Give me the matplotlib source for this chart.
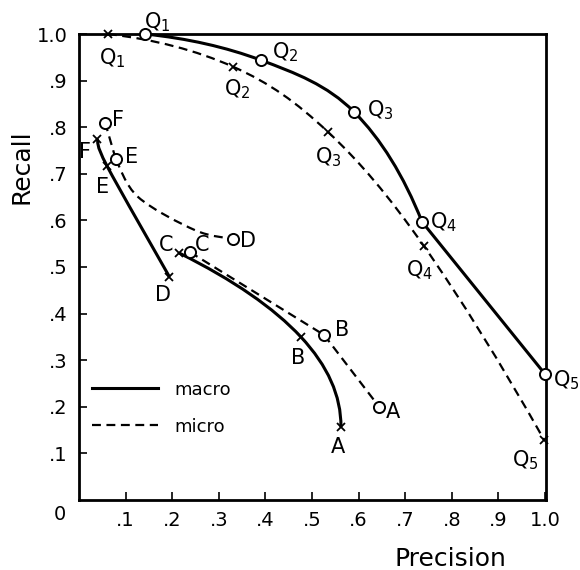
import matplotlib
matplotlib.use("Agg")
import matplotlib.pyplot as plt
from matplotlib.path import Path
from matplotlib.patches import PathPatch

# --- data (precision, recall) ---
macro_q_x = [0.142, 0.39, 0.59, 0.736, 1.0]
macro_q_y = [1.0, 0.944, 0.833, 0.597, 0.27]
micro_q_x = [0.062, 0.33, 0.534, 0.74, 0.998]
micro_q_y = [1.0, 0.93, 0.79, 0.545, 0.129]
q_labels = ["Q$_1$", "Q$_2$", "Q$_3$", "Q$_4$", "Q$_5$"]

circ_fed_x = [0.056, 0.079, 0.33]
circ_fed_y = [0.81, 0.731, 0.56]
# the dashed E-D curve, with two extra points read along it
circ_ed_trace_x = [0.079, 0.127, 0.249, 0.33]
circ_ed_trace_y = [0.731, 0.650, 0.579, 0.56]
circ_cba_x = [0.238, 0.526, 0.644]
circ_cba_y = [0.532, 0.354, 0.20]
cross_fed_x = [0.039, 0.06, 0.194]
cross_fed_y = [0.775, 0.717, 0.479]
cross_cba_x = [0.215, 0.476, 0.562]
cross_cba_y = [0.53, 0.35, 0.157]
fed_labels = ["F", "E", "D"]
cba_labels = ["C", "B", "A"]

ticks = [0.1, 0.2, 0.3, 0.4, 0.5, 0.6, 0.7, 0.8, 0.9, 1.0]
tick_labels = [".1", ".2", ".3", ".4", ".5", ".6", ".7", ".8", ".9", "1.0"]

# label offsets in pixels (style, kept apart from the data)
off_macro_q = [(12, 12), (24, 8), (26, 2), (21, 0), (21, -6)]
off_micro_q = [(4, -24), (4, -23), (0, -25), (-4, -24), (-19, -20)]
off_circ_fed = [(13, 3), (16, 2), (15, -2)]
off_circ_cba = [(12, 7), (18, 5), (14, -5)]
off_cross_fed = [(-12, -13), (-4, -21), (-6, -18)]
off_cross_cba = [(-13, 8), (-3, -21), (-3, -20)]

DASH = (0, (4, 2.5))


def smooth_path(xs, ys, ends="clamp"):
    """Catmull-Rom through the points, as cubic Bezier path segments."""
    n = len(xs)
    if n == 2:
        return Path(list(zip(xs, ys)), [Path.MOVETO, Path.LINETO])
    tx = [0.0] * n
    ty = [0.0] * n
    for i in range(1, n - 1):
        tx[i] = (xs[i + 1] - xs[i - 1]) / 2
        ty[i] = (ys[i + 1] - ys[i - 1]) / 2
    if ends == "quad":
        tx[0] = 2 * (xs[1] - xs[0]) - tx[1]
        ty[0] = 2 * (ys[1] - ys[0]) - ty[1]
        tx[-1] = 2 * (xs[-1] - xs[-2]) - tx[-2]
        ty[-1] = 2 * (ys[-1] - ys[-2]) - ty[-2]
    else:
        tx[0], ty[0] = (xs[1] - xs[0]) / 2, (ys[1] - ys[0]) / 2
        tx[-1], ty[-1] = (xs[-1] - xs[-2]) / 2, (ys[-1] - ys[-2]) / 2
    verts = [(xs[0], ys[0])]
    codes = [Path.MOVETO]
    for i in range(n - 1):
        verts += [(xs[i] + tx[i] / 3, ys[i] + ty[i] / 3),
                  (xs[i + 1] - tx[i + 1] / 3, ys[i + 1] - ty[i + 1] / 3),
                  (xs[i + 1], ys[i + 1])]
        codes += [Path.CURVE4] * 3
    return Path(verts, codes)


def curve(ax, xs, ys, dashed, ends="clamp"):
    kw = dict(fill=False, edgecolor="black", clip_on=False, zorder=2,
              capstyle="butt")
    if dashed:
        patch = PathPatch(smooth_path(xs, ys, ends), lw=1.6, linestyle=DASH, **kw)
    else:
        patch = PathPatch(smooth_path(xs, ys, ends), lw=2.2, **kw)
    ax.add_patch(patch)


def marks(ax, xs, ys, kind, labels, offs):
    if kind == "o":
        ax.plot(xs, ys, "o", ms=8, mfc="white", mec="black", mew=1.4,
                ls="none", clip_on=False, zorder=4)
    else:
        ax.plot(xs, ys, "x", ms=6, mec="black", mew=1.3,
                ls="none", clip_on=False, zorder=4)
    for x, y, lab, (dx, dy) in zip(xs, ys, labels, offs):
        ax.annotate(lab, (x, y), xytext=(dx, dy), textcoords="offset pixels",
                    ha="center", va="center", fontsize=15)


fig = plt.figure(figsize=(5.8, 5.7), dpi=100)
ax = fig.add_axes([79 / 580, 1 - 500 / 570, 467 / 580, 466 / 570])
ax.set_xlim(0, 1.002)
ax.set_ylim(0, 1.0)

# macro: smooth to Q4, then straight on to Q5
curve(ax, macro_q_x[:4], macro_q_y[:4], dashed=False, ends="quad")
curve(ax, macro_q_x[3:], macro_q_y[3:], dashed=False)
curve(ax, micro_q_x, micro_q_y, dashed=True, ends="quad")
# circled F-E-D and C-B-A: dashed, straight pieces except the E-D sweep
curve(ax, circ_fed_x[:2], circ_fed_y[:2], dashed=True)
curve(ax, circ_ed_trace_x, circ_ed_trace_y, dashed=True)
curve(ax, circ_cba_x[:2], circ_cba_y[:2], dashed=True)
curve(ax, circ_cba_x[1:], circ_cba_y[1:], dashed=True)
curve(ax, cross_fed_x, cross_fed_y, dashed=False)
curve(ax, cross_cba_x, cross_cba_y, dashed=False, ends="quad")

marks(ax, macro_q_x, macro_q_y, "o", q_labels, off_macro_q)
marks(ax, micro_q_x, micro_q_y, "x", q_labels, off_micro_q)
marks(ax, circ_fed_x, circ_fed_y, "o", fed_labels, off_circ_fed)
marks(ax, circ_cba_x, circ_cba_y, "o", cba_labels, off_circ_cba)
marks(ax, cross_fed_x, cross_fed_y, "x", fed_labels, off_cross_fed)
marks(ax, cross_cba_x, cross_cba_y, "x", cba_labels, off_cross_cba)

# legend
ax.plot([], [], color="black", lw=2.2, label="macro")
ax.plot([], [], color="black", lw=1.6, ls=DASH, label="micro")
ax.legend(loc="upper left", bbox_to_anchor=(0.0, 0.283), frameon=False,
          fontsize=13, handlelength=3.7, handletextpad=0.9, labelspacing=1.05,
          borderaxespad=0.3)

for s in ax.spines.values():
    s.set_linewidth(2.0)
ax.set_xticks(ticks)
ax.set_xticklabels(tick_labels)
ax.set_yticks(ticks)
ax.set_yticklabels(tick_labels)
ax.tick_params(axis="both", direction="in", length=6, width=1.2, labelsize=14)
ax.tick_params(axis="x", pad=8)
ax.tick_params(axis="y", pad=8)
ax.text(-0.04, -0.032, "0", transform=ax.transData, ha="center", va="center",
        fontsize=14, clip_on=False)

ax.set_xlabel("Precision", fontsize=18)
ax.xaxis.set_label_coords(0.796, -0.10)
ax.set_ylabel("Recall", fontsize=18)
ax.yaxis.set_label_coords(-0.098, 0.715)

fig.savefig("out.png", dpi=100)
